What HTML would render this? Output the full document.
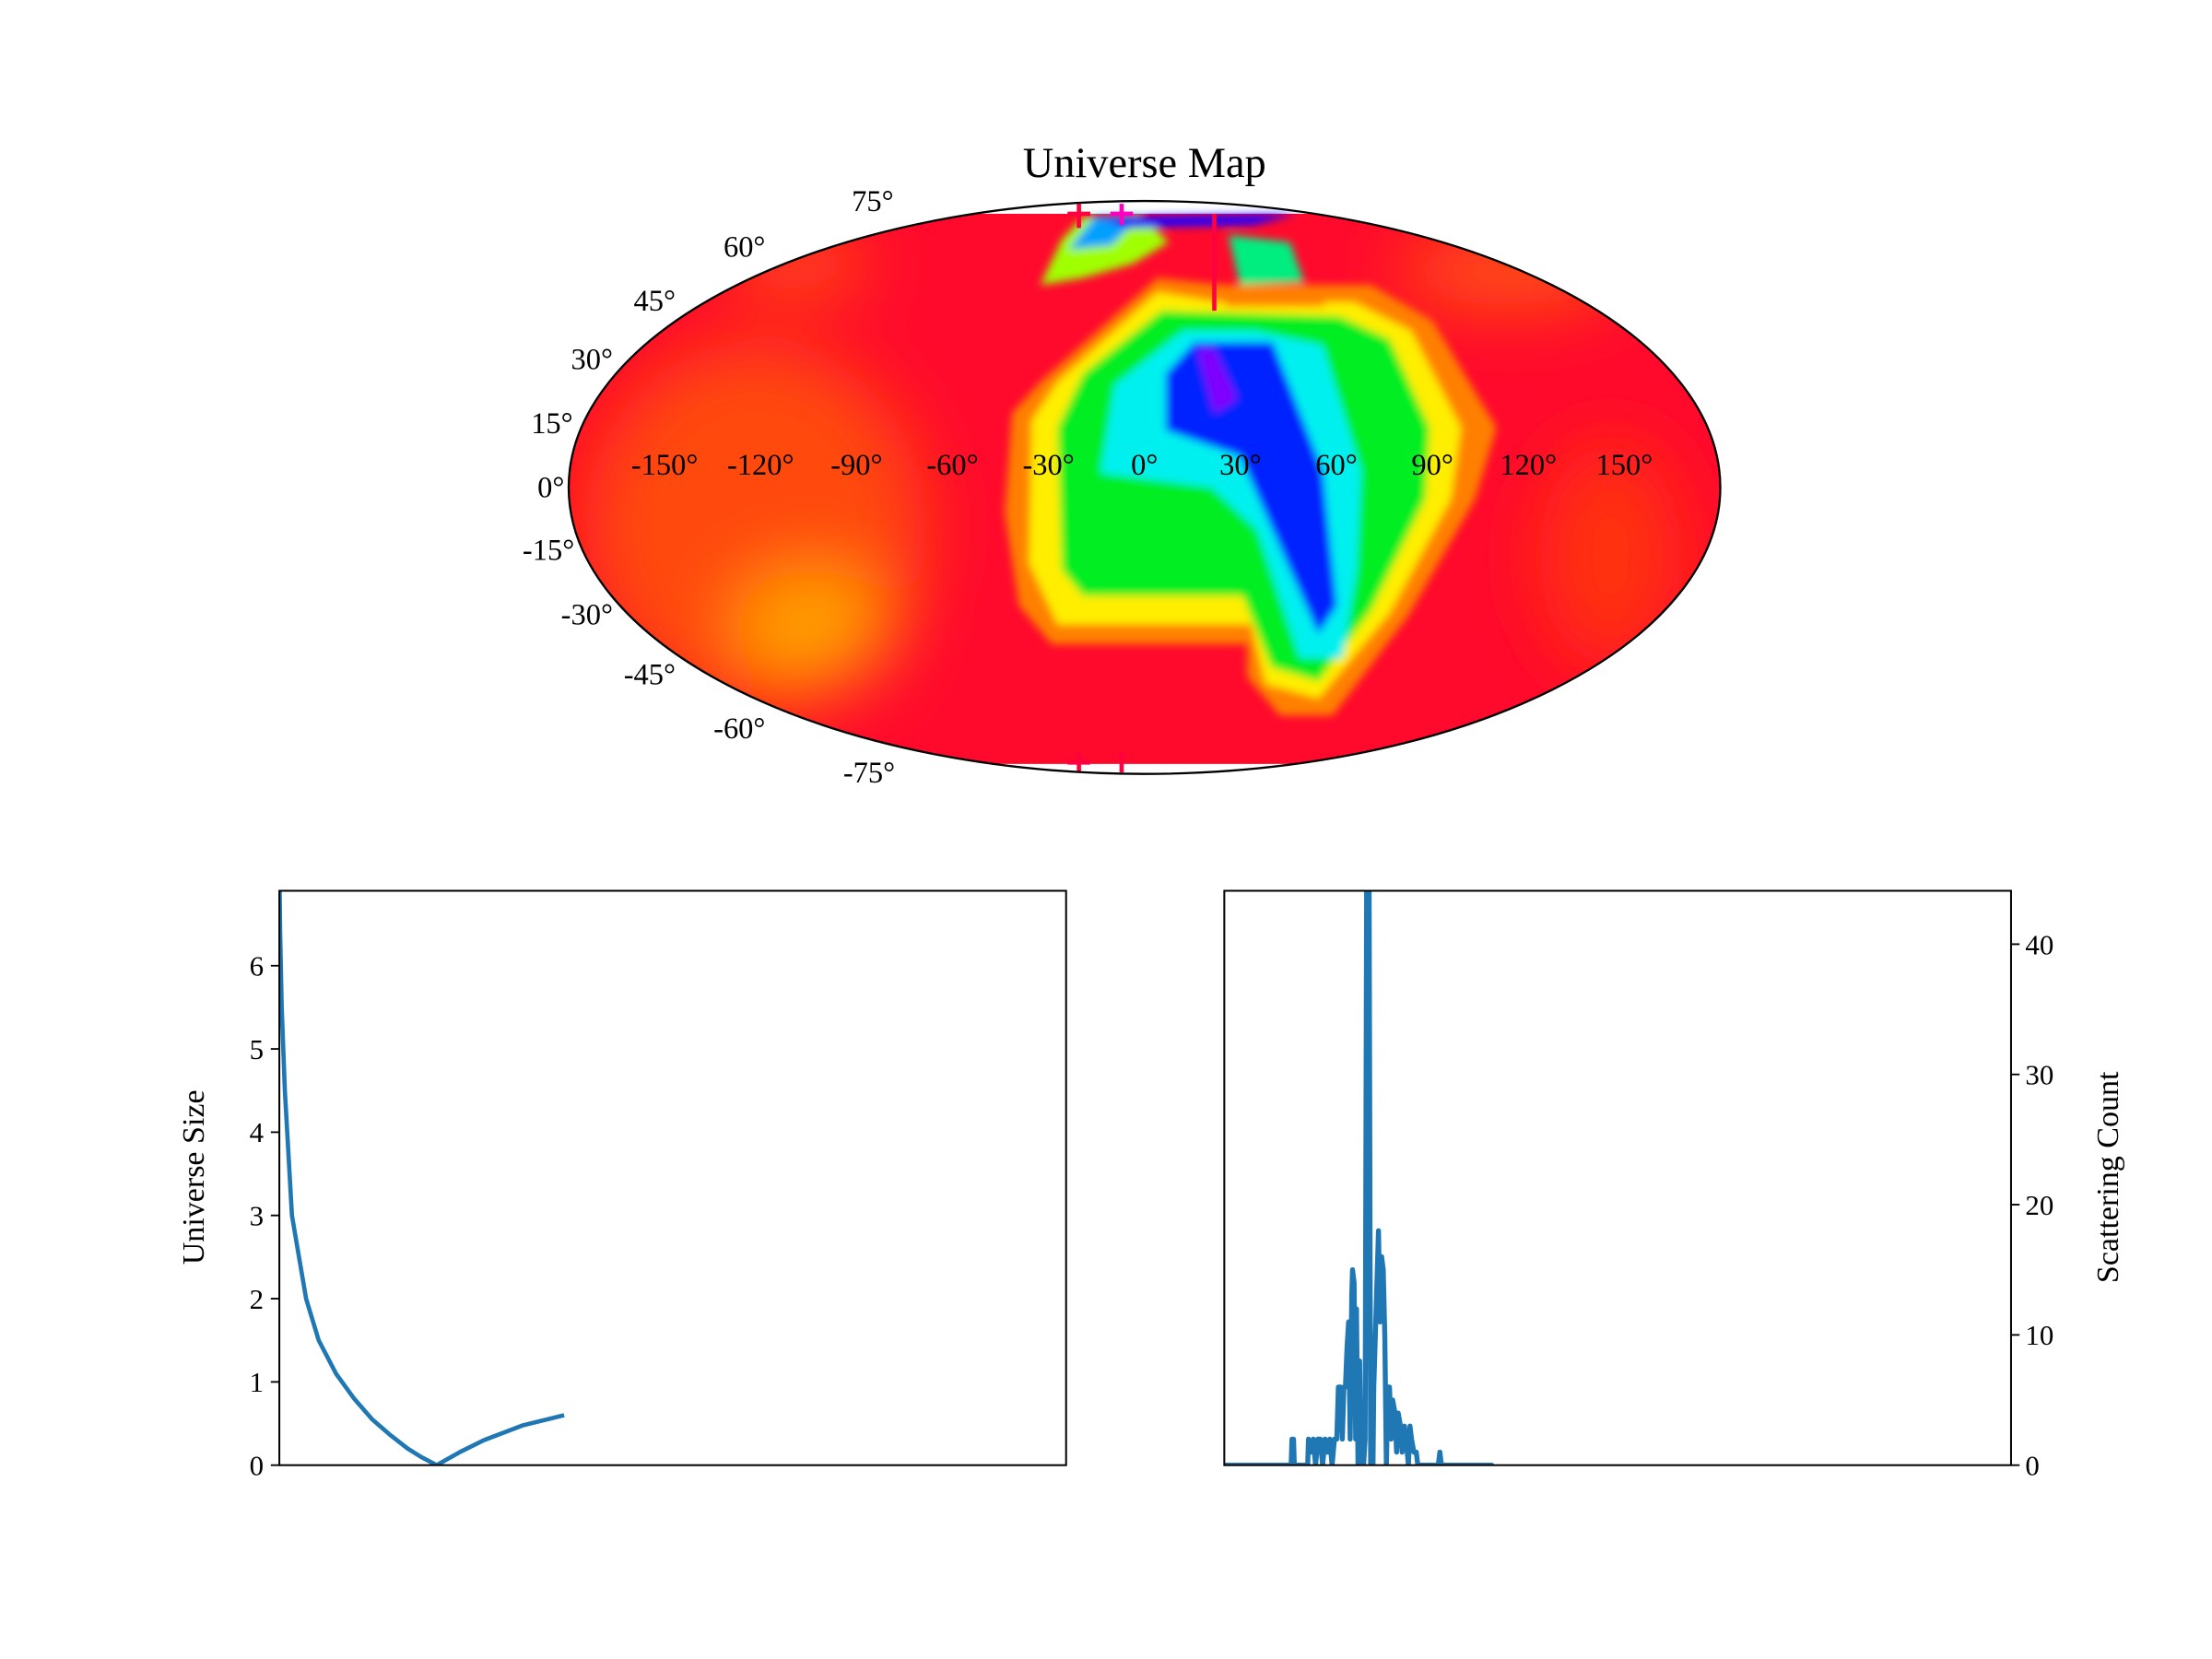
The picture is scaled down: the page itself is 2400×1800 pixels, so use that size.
<!DOCTYPE html>
<html><head><meta charset="utf-8"><title>Universe Map</title>
<style>html,body{margin:0;padding:0;background:#fff}svg{display:block}text{font-family:"Liberation Serif",serif;fill:#000}</style>
</head><body>
<svg id="fig" width="2400" height="1800" viewBox="0 0 1552 1164" preserveAspectRatio="none" xmlns="http://www.w3.org/2000/svg">
<defs>
<clipPath id="ell"><ellipse cx="803" cy="342" rx="404" ry="201"/></clipPath>
<clipPath id="clipL"><rect x="196" y="625" width="552" height="403"/></clipPath>
<clipPath id="clipR"><rect x="859" y="625" width="552" height="403"/></clipPath>
<filter id="bl" x="-20%" y="-20%" width="140%" height="140%"><feGaussianBlur stdDeviation="3"/></filter>
<filter id="bl2" x="-50%" y="-50%" width="200%" height="200%"><feGaussianBlur stdDeviation="25"/></filter>
</defs>
<rect width="1552" height="1164" fill="#fff"/>
<text x="803" y="124" font-size="30" text-anchor="middle">Universe Map</text>
<g clip-path="url(#ell)">
<rect x="399" y="150" width="808" height="386" fill="#ff0a2c"/>
<g filter="url(#bl2)">
<ellipse cx="530" cy="370" rx="120" ry="130" fill="#ff4a10"/>
<ellipse cx="570" cy="440" rx="55" ry="40" fill="#ffa000"/>
<ellipse cx="1130" cy="390" rx="50" ry="80" fill="#ff3010"/>
<ellipse cx="1060" cy="190" rx="80" ry="25" fill="#ff5a10"/>
<ellipse cx="560" cy="185" rx="50" ry="20" fill="#ff5a10"/>
</g>
<g filter="url(#bl)">
<polygon fill="#ff8000" points="812,195 730,268 710,290 705,360 715,425 738,452 875,452 875,475 898,502 935,502 988,432 1035,350 1050,300 1005,225 962,200 858,200"/>
<polygon fill="#ffee00" points="812,205 742,268 724,295 722,395 742,438 878,438 888,480 925,490 975,430 1018,350 1025,300 990,232 950,212 855,212"/>
<polygon fill="#00ee20" points="815,218 760,262 742,300 745,400 760,418 872,418 892,468 925,478 962,428 1000,350 1003,300 975,238 940,222"/>
<polygon fill="#00f0f0" points="830,232 782,270 772,332 850,342 882,372 912,462 942,462 952,400 955,330 928,242 880,232"/>
<polygon fill="#0020ff" points="838,240 818,262 818,302 870,320 905,400 925,445 938,425 928,330 893,240"/>
<polygon fill="#8000ff" points="840,245 852,290 868,280 852,245"/>
<polygon fill="#a0ff00" points="730,200 745,168 760,152 800,150 820,170 795,185 760,195"/>
<polygon fill="#00a0ff" points="750,175 768,152 800,152 780,172"/>
<polygon fill="#2000ff" points="768,152 910,150 880,158 790,160"/>
<polygon fill="#00ee80" points="862,165 905,170 915,198 870,200"/>
<polygon fill="#ff8000" points="860,200 920,200 930,215 860,215"/>
</g>
<g stroke="#ff0040" stroke-width="3">
<line x1="749" y1="150" x2="765" y2="150"/><line x1="757" y1="143" x2="757" y2="160"/>
<line x1="779" y1="150" x2="795" y2="150" stroke="#ff00c0"/><line x1="787" y1="143" x2="787" y2="158" stroke="#ff00c0"/>
<line x1="852" y1="150" x2="852" y2="218"/>
<line x1="749" y1="535" x2="765" y2="535"/><line x1="757" y1="528" x2="757" y2="542"/>
<line x1="787" y1="528" x2="787" y2="542"/>
</g>
</g>
<ellipse cx="803" cy="342" rx="404" ry="201" fill="none" stroke="#000" stroke-width="1.5"/>
<g id="latlabels" font-size="21" text-anchor="end"></g>
<g id="lonlabels" font-size="21" text-anchor="middle"></g>

<g id="left"></g>
<g id="right"></g>
</svg>
<script>
const NS='http://www.w3.org/2000/svg';
function mk(tag,attrs,parent){const e=document.createElementNS(NS,tag);for(const k in attrs)e.setAttribute(k,attrs[k]);parent.appendChild(e);return e;}

// map labels
const latVals=[75,60,45,30,15,0,-15,-30,-45,-60,-75];
const lonVals=[-150,-120,-90,-60,-30,0,30,60,90,120,150];
const latAnchorX=[627,537,474,430,402,396,403,430,474,537,628];
const latAnchorY=[148,180,218,259,304,349,393,438,480,518,549];
const latG=document.getElementById('latlabels'), lonG=document.getElementById('lonlabels');
const mcx=803,mrx=404;
latVals.forEach((v,i)=>{
const t=mk('text',{x:latAnchorX[i],y:latAnchorY[i]},latG);t.textContent=(v<0?'-':'')+Math.abs(v)+'°';

});
lonVals.forEach(v=>{const x=mcx+mrx*v/180;const t=mk('text',{x:x,y:333},lonG);t.textContent=(v<0?'-':'')+Math.abs(v)+'°';

});

// left chart data
const sizeX=[0,0.01,0.03,0.07,0.16,0.34,0.5,0.72,0.95,1.18,1.4,1.63,1.8,2.0,2.3,2.6,3.1,3.62];
const sizeY=[7.2,6.4,5.5,4.5,3.0,2.0,1.5,1.1,0.8,0.55,0.37,0.2,0.1,0.0,0.16,0.3,0.48,0.6];
const sizeTicks=[0,1,2,3,4,5,6];
const L={x0:196,x1:748,y0:625,y1:1028,xmin:0,xmax:10,ymin:0,ymax:6.9};
const lx=v=>L.x0+(v-L.xmin)/(L.xmax-L.xmin)*(L.x1-L.x0);
const ly=v=>L.y1-(v-L.ymin)/(L.ymax-L.ymin)*(L.y1-L.y0);
const lg=document.getElementById('left');
const lline=mk('polyline',{points:sizeX.map((x,i)=>lx(x)+','+ly(sizeY[i])).join(' '),fill:'none',stroke:'#1f77b4','stroke-width':3,'stroke-linejoin':'round','clip-path':'url(#clipL)'},lg);


const lframe=mk('rect',{x:L.x0,y:L.y0,width:L.x1-L.x0,height:L.y1-L.y0,fill:'none',stroke:'#000','stroke-width':1.3},lg);


sizeTicks.forEach(v=>{const y=ly(v);mk('line',{x1:L.x0-6,x2:L.x0,y1:y,y2:y,stroke:'#000','stroke-width':1.2},lg);
const t=mk('text',{x:L.x0-11,y:y+7,'font-size':20,'text-anchor':'end'},lg);t.textContent=v;

});
const lt=mk('text',{x:0,y:0,'font-size':22,'text-anchor':'middle',transform:'translate(143,826) rotate(-90)'},lg);lt.textContent='Universe Size';



// right chart data
const scatX=[0,8.5,8.6,8.8,8.9,10.6,10.7,11.0,11.3,11.6,11.9,12.2,12.5,12.8,13.1,13.4,13.7,14.0,14.3,14.5,14.8,15.0,15.2,15.4,15.6,15.8,16.0,16.2,16.3,16.5,16.7,16.8,17.0,17.2,17.4,17.7,17.9,18.1,18.4,18.6,18.9,19.0,19.3,19.6,19.8,20.0,20.2,20.4,20.6,20.8,21.0,21.2,21.4,21.7,21.9,22.1,22.4,22.6,22.9,23.1,23.4,23.6,23.8,24.1,24.4,24.6,27.2,27.4,27.6,34];
const scatY=[0,0,2,2,0,0,2,1,2,0,2,2,0,2,1,2,0,2,2,6,6,2,6,6,9,11,2,13,15,14,2,12,0,8,0,0,2,46,46,0,0,6,12,18,11,16,15,10,0,6,6,2,5,4,1,4,3,1,3,2,0,3,2,1,1,0,0,1,0,0];
const scatTicks=[0,10,20,30,40];
const R={x0:859,x1:1411,y0:625,y1:1028,xmin:0,xmax:100,ymin:0,ymax:44.1};
const rx=v=>R.x0+(v-R.xmin)/(R.xmax-R.xmin)*(R.x1-R.x0);
const ry=v=>R.y1-(v-R.ymin)/(R.ymax-R.ymin)*(R.y1-R.y0);
const rg=document.getElementById('right');
const rline=mk('polyline',{points:scatX.map((x,i)=>rx(x)+','+ry(scatY[i])).join(' '),fill:'none',stroke:'#1f77b4','stroke-width':3.5,'stroke-linejoin':'round','stroke-linecap':'round','clip-path':'url(#clipR)'},rg);


const rframe=mk('rect',{x:R.x0,y:R.y0,width:R.x1-R.x0,height:R.y1-R.y0,fill:'none',stroke:'#000','stroke-width':1.3},rg);


scatTicks.forEach(v=>{const y=ry(v);mk('line',{x1:R.x1,x2:R.x1+6,y1:y,y2:y,stroke:'#000','stroke-width':1.2},rg);
const t=mk('text',{x:R.x1+10,y:y+7,'font-size':20,'text-anchor':'start'},rg);t.textContent=v;

});
const rt=mk('text',{x:0,y:0,'font-size':22,'text-anchor':'middle',transform:'translate(1486,826) rotate(-90)'},rg);rt.textContent='Scattering Count';


</script>
</body></html>
